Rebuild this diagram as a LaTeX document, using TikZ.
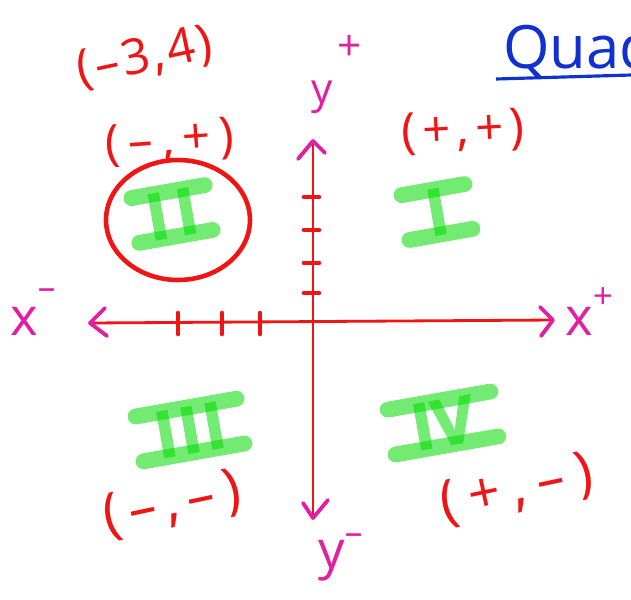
\documentclass[tikz,border=0pt]{standalone}
\usepackage{fontspec}
\setmainfont{Open Sans}
\usetikzlibrary{shapes.geometric}
\definecolor{pen}{HTML}{F01414}
\definecolor{mag}{HTML}{E020A0}
\definecolor{hl}{HTML}{00DC00}
\definecolor{ink}{HTML}{1030D0}
\begin{document}
\begin{tikzpicture}[x=0.02cm,y=-0.02cm,
  axisln/.style={draw=pen, line width=1.6pt},
  tickln/.style={draw=pen, line width=2.6pt, line cap=round},
  chev/.style={draw=mag, line width=2.2pt, line cap=round, line join=round},
  pair/.style={text=pen, inner sep=0pt, font=\fontsize{28}{28}\selectfont\addfontfeature{LetterSpace=#1}},
  pair/.default=0,
  bigpair/.style={text=pen, inner sep=0pt, font=\fontsize{32}{32}\selectfont\addfontfeature{LetterSpace=#1}},
  bigpair/.default=0,
  axlbl/.style={text=mag, inner sep=0pt, anchor=base west, font=\fontsize{30}{30}\selectfont},
  smlbl/.style={text=mag, inner sep=0pt, font=\fontsize{24}{24}\selectfont},
  numr/.style={text=hl!55!white, inner sep=0pt, text height=25.5pt, text depth=0pt, rotate=10,
    font=\fontsize{36}{36}\selectfont\bfseries\addfontfeature{FakeBold=3}},
  hlbar/.style={draw=hl, draw opacity=0.55, line width=9pt, line cap=round}]
\useasboundingbox (0,0) rectangle (631,599);
\fill[white] (0,0) rectangle (631,599);

% axes
\coordinate (xl) at (90,323);
\coordinate (xr) at (553,320);
\coordinate (yt) at (313,141);
\coordinate (yb) at (313,518);
\draw[axisln] (xl) -- (xr);
\draw[axisln] (yt) -- (yb);

% arrow chevrons
\draw[chev] (105,308) -- (xl) -- (107,336);
\draw[chev] (540,307) -- (xr) -- (541,336);
\draw[chev] (298,159) -- (yt) -- (325,153);
\draw[chev] (303,503) -- (yb) -- (328,500);

% ticks on y axis
\foreach \ty in {197,230,263,293} \draw[tickln] (304,\ty) -- (319,\ty);
% ticks on x axis
\foreach \tx in {178,222,260} \draw[tickln] (\tx,313) -- (\tx,334);

% axis labels
\node[axlbl] (xminus) at (10,335) {x\raisebox{0.68em}{\fontsize{20}{20}\selectfont –}};
\node[axlbl] (xplus) at (565,335) {x\raisebox{0.5em}{\fontsize{20}{20}\selectfont +}};
\node[smlbl, anchor=base west] (ylab) at (311,103) {y};
\node[smlbl] (yplus) at (350,48) {+};
\node[axlbl] (yminus) at (318,568) {y\raisebox{0.45em}{\fontsize{20}{20}\selectfont –}};

% title
\node[text=ink, inner sep=0pt, anchor=base west, font=\fontsize{34}{34}\selectfont] (title) at (503,68) {Quad};
\coordinate (ul1) at (496,79);
\coordinate (ul2) at (631,75);
\draw[draw=ink, line width=1.8pt] (ul1) -- (ul2);

% sign pairs
\node[pair=6, rotate=12] (pt) at (145,58) {(–3,4)};
\node[pair=18, rotate=4] (q2s) at (170,142) {(–,+)};
\node[pair=13, rotate=3] (q1s) at (463,132) {(+,+)};
\node[bigpair=16, rotate=12] (q3s) at (172,505) {(–,–)};
\node[bigpair=21, rotate=12] (q4s) at (517,490) {(+,–)};

% circle around II
\node[ellipse, draw=pen, line width=2.6pt, minimum width=2.88cm, minimum height=2.4cm, inner sep=0pt] (ring) at (178,220) {};

% quadrant numerals
\node[numr, minimum width=42pt] (q2) at (172,214) {I\kern5pt I};
\draw[hlbar] (q2.north west) -- (q2.north east);
\draw[hlbar] (q2.south west) -- (q2.south east);

\node[numr, minimum width=36pt] (q1) at (437,212) {I};
\draw[hlbar] (q1.north west) -- (q1.north east);
\draw[hlbar] (q1.south west) -- (q1.south east);

\node[numr, minimum width=58pt] (q3) at (190,430) {I\kern2pt I\kern2pt I};
\draw[hlbar] (q3.north west) -- (q3.north east);
\draw[hlbar] (q3.south west) -- (q3.south east);

\node[numr, minimum width=59pt] (q4) at (443,423) {IV};
\draw[hlbar] (q4.north west) -- (q4.north east);
\draw[hlbar] (q4.south west) -- (q4.south east);
\end{tikzpicture}
\end{document}
